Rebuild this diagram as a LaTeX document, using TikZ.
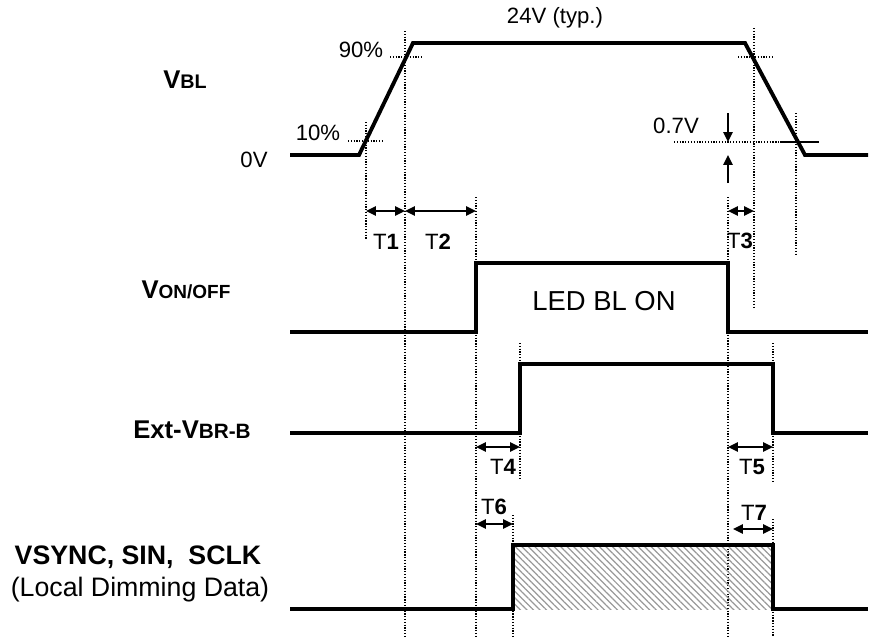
\documentclass[tikz,border=0pt]{standalone}
\usepackage{fontspec}
\setmainfont{Liberation Sans}
\usetikzlibrary{arrows.meta,patterns.meta}
\newcommand{\fsz}[1]{\fontsize{#1}{#1}\selectfont}

\begin{document}
\begin{tikzpicture}[x=0.01cm, y=-0.01cm,
  wave/.style={line width=1.1pt, line join=miter},
  guide/.style={line width=0.4pt, dash pattern=on 0.35pt off 0.45pt},
  dim/.style={line width=0.6pt, >={Triangle[length=2.8pt,width=2.6pt]}, <->},
  lbl/.style={font=\fsz{6.3}, inner sep=0pt},
  tlbl/.style={font=\fsz{6.3}, inner sep=0pt},
  sig/.style={font=\fsz{7.3}\bfseries, inner sep=0pt}]

  \useasboundingbox (0,0) rectangle (878,639);

  % Draw the dotted guide lines
  \draw[guide] (366,122) -- (366,240);
  \draw[guide] (405,31) -- (405,637);
  \draw[guide] (476,197) -- (476,637);
  \draw[guide] (728,197) -- (728,637);
  \draw[guide] (754,28) -- (754,307);
  \draw[guide] (796,113) -- (796,255);
  \draw[guide] (520,343) -- (520,480);
  \draw[guide] (773,343) -- (773,482);
  \draw[guide] (773,519) -- (773,637);
  \draw[guide] (513,515) -- (513,637);
  \draw[guide] (348,141) -- (382,141);
  \draw[guide] (390,57) -- (423,57);
  \draw[guide] (738,57) -- (772,57);
  \draw[guide] (674,142) -- (819,142);
  \draw[line width=0.5pt] (780,142) -- (818,142);

  % Draw the four waveforms
  \draw[wave] (290,155) -- (359,155) -- (413,43) -- (745,43) -- (805,155) -- (868,155);
  \draw[wave] (290,332) -- (476,332) -- (476,263) -- (728,263) -- (728,332) -- (868,332);
  \draw[wave] (290,433) -- (520,433) -- (520,364) -- (773,364) -- (773,433) -- (868,433);
  \fill[pattern={Lines[angle=-45,distance=1.3pt,line width=0.35pt]}, pattern color=gray!80] (513,545) rectangle (773,609);
  \draw[wave] (290,609) -- (513,609) -- (513,545) -- (773,545) -- (773,609) -- (868,609);

  % Draw the timing arrows
  \draw[dim] (366,211) -- (405,211);
  \draw[dim] (405,211) -- (476,211);
  \draw[dim] (728,211) -- (754,211);
  \draw[dim] (476,447) -- (520,447);
  \draw[dim] (728,447) -- (773,447);
  \draw[dim] (476,524) -- (513,524);
  \draw[dim] (733,529) -- (773,529);
  \draw[line width=0.6pt, -{Triangle[length=2.8pt,width=2.6pt]}] (728,113) -- (728,142);
  \draw[line width=0.6pt, -{Triangle[length=2.8pt,width=2.6pt]}] (728,183) -- (728,155);

  % Labels
  \node[lbl] (typ) at (555,18) {24V (typ.)};
  \node[lbl] (p90) at (361,50) {90\%};
  \node[lbl] (p10) at (318,133) {10\%};
  \node[lbl] (zero) at (254,160) {0V};
  \node[lbl] (v07) at (676,126) {0.7V};
  \node[font=\fsz{7.8}, inner sep=0pt] (ledon) at (604,301) {LED BL ON};

  \node[tlbl] (t1) at (386,242) {T\textbf{1}};
  \node[tlbl] (t2) at (438,242) {T\textbf{2}};
  \node[tlbl] (t3) at (740,241) {T\textbf{3}};
  \node[tlbl] (t4) at (503,467) {T\textbf{4}};
  \node[tlbl] (t5) at (752,467) {T\textbf{5}};
  \node[tlbl] (t6) at (494,507) {T\textbf{6}};
  \node[tlbl] (t7) at (754,513) {T\textbf{7}};

  \node[sig] (vbl) at (185,80) {V{\fsz{5.6}BL}};
  \node[sig] (vonoff) at (186,290) {V{\fsz{5.4}ON/OFF}};
  \node[sig] (vbrb) at (192,430) {Ext-V{\fsz{5.9}BR-B}};
  \node[font=\fsz{7.6}\bfseries, inner sep=0pt] (vsync) at (138,557) {VSYNC, SIN,\ \ SCLK};
  \node[font=\fsz{7.6}, inner sep=0pt] (ldd) at (140,590) {(Local Dimming Data)};

\end{tikzpicture}
\end{document}
